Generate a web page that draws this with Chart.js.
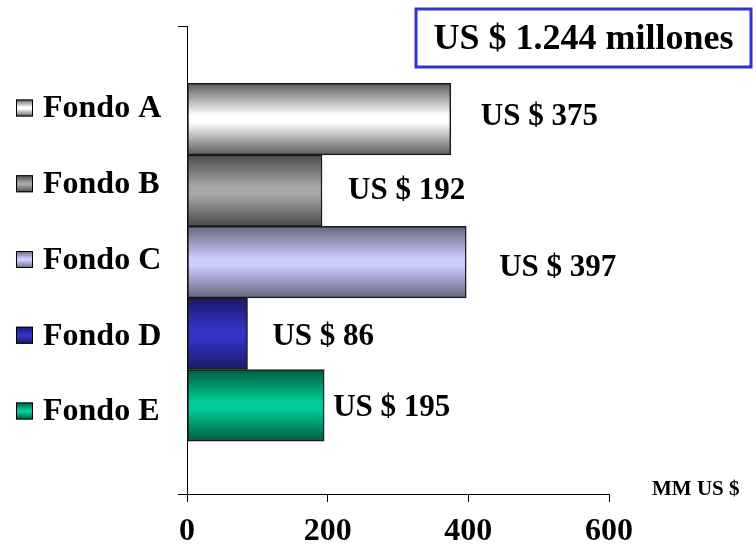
<!DOCTYPE html>
<html>
<head>
<meta charset="utf-8">
<script src="https://cdn.jsdelivr.net/npm/chart.js@4/dist/chart.umd.min.js"></script>
<style>
  body { margin: 0; background: #fff; }
  canvas { display: block; }
</style>
</head>
<body>
<canvas id="grafico" width="756" height="554"></canvas>
<script>
const categorias = ['Fondo A', 'Fondo B', 'Fondo C', 'Fondo D', 'Fondo E'];
const valores = [375, 192, 397, 86, 195];
const etiquetasValor = valores.map(v => 'US $ ' + v);
const ticksX = [0, 200, 400, 600];
const total = 'US $ 1.244 millones';
const unidad = 'MM US $';

// colores de borde y centro para el sombreado de cada barra
const bordes = ['#5c5c5c', '#4a4a4a', '#66667f', '#1a1a66', '#005c40'];
const centros = ['#ffffff', '#a8a8a8', '#ccccff', '#3333cc', '#00cc99'];
// ajustes de las etiquetas de valor (px desde el final de la barra)
const despX = [30, 26, 33, 25, 9];
const despY = [-2, 0, 6, 3, 3];

const fuente = '"Liberation Serif", "Times New Roman", serif';

function sombreado(ctx, arriba, abajo, i) {
  const g = ctx.createLinearGradient(0, arriba, 0, abajo);
  g.addColorStop(0, bordes[i]);
  g.addColorStop(0.45, centros[i]);
  g.addColorStop(0.55, centros[i]);
  g.addColorStop(1, bordes[i]);
  return g;
}

const extras = {
  id: 'extras',
  afterDatasetsDraw(chart) {
    const ctx = chart.ctx;
    const x = chart.scales.x, y = chart.scales.y;
    ctx.save();
    ctx.fillStyle = '#000';
    ctx.textBaseline = 'middle';

    // etiquetas de valor
    ctx.font = 'bold 31px ' + fuente;
    ctx.textAlign = 'left';
    valores.forEach((v, i) => {
      ctx.fillText(etiquetasValor[i], x.getPixelForValue(v) + despX[i], y.getPixelForValue(i) + despY[i]);
    });

    // leyenda de la izquierda
    const top = 108, paso = 75.75;
    categorias.forEach((c, i) => {
      const cy = top + i * paso;
      ctx.fillStyle = sombreado(ctx, cy - 8.5, cy + 8.5, i);
      ctx.fillRect(16, cy - 8.5, 17, 17);
      ctx.strokeStyle = '#000';
      ctx.lineWidth = 1;
      ctx.strokeRect(16.5, cy - 8, 16, 16);
      ctx.fillStyle = '#000';
      ctx.font = 'bold 32px ' + fuente;
      ctx.fillText(c, 43, cy + 1);
    });

    // unidad del eje
    ctx.font = 'bold 21px ' + fuente;
    ctx.fillText(unidad, 652, 490);

    // cuadro del total
    ctx.strokeStyle = '#3333cc';
    ctx.lineWidth = 3;
    ctx.strokeRect(416, 9, 335, 58);
    ctx.font = 'bold 36px ' + fuente;
    ctx.textAlign = 'center';
    ctx.fillText(total, 583.5, 40);
    ctx.restore();
  }
};

new Chart(document.getElementById('grafico'), {
  type: 'bar',
  data: {
    datasets: [{
      data: valores.map((v, i) => ({ x: v, y: i })),
      backgroundColor: c => {
        const i = c.dataIndex || 0;
        const esc = c.chart.scales.y;
        if (!esc) return centros[i];
        const p = esc.getPixelForValue(i);
        const h = Math.abs(esc.getPixelForValue(i + 0.5) - p);
        if (!Number.isFinite(p) || !Number.isFinite(h) || h === 0) return centros[i];
        return sombreado(c.chart.ctx, p - h, p + h, i);
      },
      borderColor: '#1a1a1a',
      borderWidth: 1.5,
      borderSkipped: false,
      barPercentage: 1,
      categoryPercentage: 1
    }]
  },
  options: {
    indexAxis: 'y',
    responsive: false,
    animation: false,
    layout: { padding: { left: 178, right: 147, top: 26, bottom: -8 } },
    plugins: { legend: { display: false }, tooltip: { enabled: false } },
    scales: {
      x: {
        type: 'linear',
        min: 0,
        max: 600,
        afterBuildTicks: s => { s.ticks = ticksX.map(v => ({ value: v })); },
        grid: { drawOnChartArea: false, tickLength: 8, color: '#000' },
        border: { color: '#000', width: 1 },
        ticks: {
          color: '#000',
          padding: 14,
          font: { family: fuente, size: 32, weight: 'bold', lineHeight: 1 }
        }
      },
      y: {
        type: 'linear',
        reverse: true,
        offset: false,
        min: -1.3,
        max: 5.24,
        afterBuildTicks: s => { s.ticks = [{ value: s.min }, { value: s.max }]; },
        grid: { offset: false, drawOnChartArea: false, tickLength: 9, color: '#000' },
        border: { color: '#000', width: 1 },
        ticks: { display: false }
      }
    }
  },
  plugins: [extras]
});
</script>
</body>
</html>
